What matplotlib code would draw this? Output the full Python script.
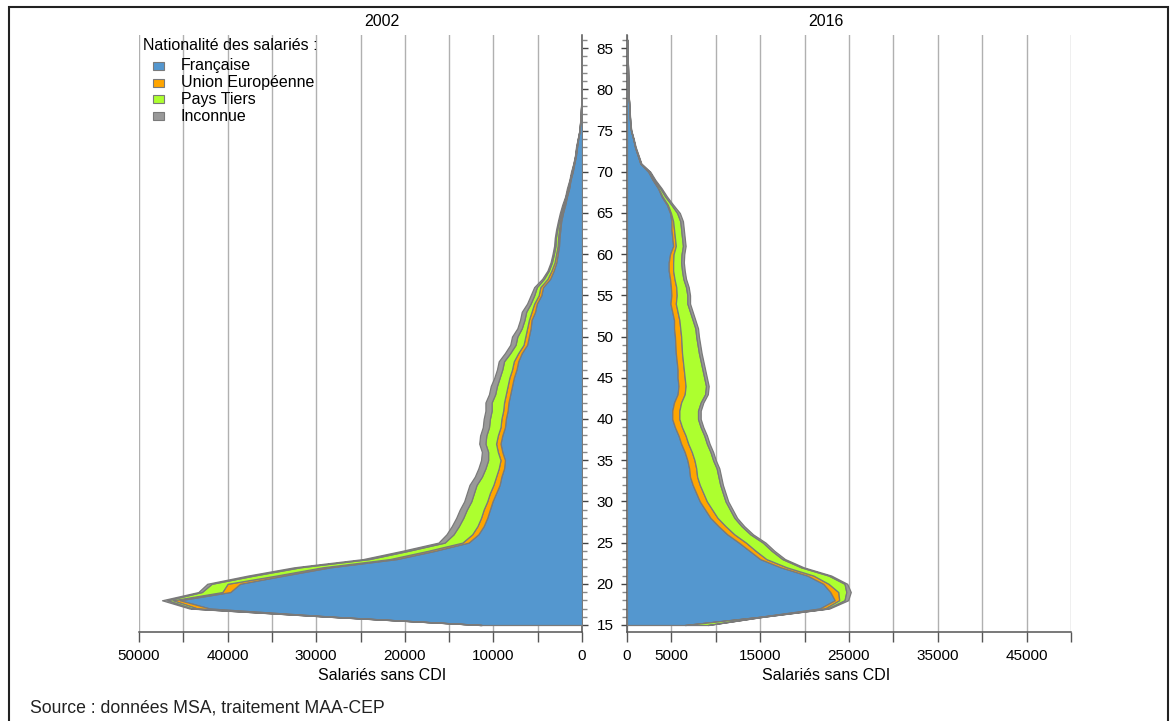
import numpy as np
import matplotlib
matplotlib.use("Agg")
import matplotlib.pyplot as plt
from matplotlib.patches import Rectangle
from matplotlib.ticker import FixedLocator, MultipleLocator

plt.rcParams['font.family'] = ['Liberation Sans', 'DejaVu Sans']

# ---------------------------------------------------------------------
# Data: salariés sans CDI by age and nationality
# ---------------------------------------------------------------------
ages = list(range(15, 87))

fr_2002 = [11300, 28000, 42000, 45400, 39700, 38600, 33600, 28400, 20900, 16600,
           12800, 11700, 11100, 10700, 10400, 10100, 9700, 9300, 9100, 8800,
           8700, 9000, 9200, 9000, 8700, 8600, 8400, 8300, 8100, 7900,
           7700, 7400, 7200, 6800, 6200, 6000, 5800, 5700, 5300, 5100,
           4600, 4400, 3600, 3200, 2900, 2750, 2600, 2550, 2450, 2350,
           2150, 1900, 1700, 1450, 1300, 1050, 870, 680, 560, 430,
           260, 190, 130, 90, 60, 45, 35, 25, 20, 12,
           8, 5]
ue_2002 = [50, 200, 1400, 800, 900, 1400, 900, 900, 800, 800,
           700, 700, 700, 700, 700, 600, 700, 700, 600, 600,
           500, 500, 500, 500, 500, 500, 500, 500, 500, 500,
           500, 500, 500, 400, 400, 400, 400, 300, 400, 300,
           300, 300, 300, 250, 200, 180, 150, 150, 150, 120,
           100, 80, 50, 50, 30, 50, 30, 30, 30, 20,
           10, 10, 5, 5, 0, 0, 0, 0, 0, 0,
           0, 0]
pt_2002 = [100, 300, 600, 600, 2300, 1800, 2500, 2500, 2300, 2200,
           2000, 2100, 2100, 2000, 1900, 1800, 1800, 1900, 1600, 1500,
           1400, 1100, 1200, 1300, 1300, 1300, 1300, 1400, 1200, 1200,
           1100, 1100, 1100, 900, 900, 900, 600, 500, 600, 400,
           500, 400, 400, 300, 300, 250, 250, 250, 200, 150,
           150, 150, 100, 100, 50, 70, 50, 50, 50, 20,
           20, 10, 10, 5, 0, 0, 0, 0, 0, 0,
           0, 0]
in_2002 = [50, 100, 300, 600, 400, 500, 700, 700, 700, 700,
           700, 800, 800, 800, 800, 800, 800, 800, 800, 800,
           800, 700, 700, 700, 700, 700, 700, 700, 700, 700,
           600, 600, 600, 600, 600, 600, 500, 500, 500, 400,
           400, 300, 200, 150, 150, 150, 150, 120, 120, 100,
           100, 100, 50, 100, 50, 70, 30, 30, 40, 20,
           10, 10, 5, 5, 5, 5, 5, 5, 5, 5,
           5, 5]

fr_2016 = [6500, 15000, 21700, 23400, 22900, 22100, 20300, 17300, 15000, 13800,
           12600, 11300, 10300, 9400, 8800, 8200, 7800, 7400, 7100, 7000,
           6800, 6500, 6100, 5800, 5400, 5100, 5100, 5300, 5700, 5800,
           5700, 5700, 5600, 5500, 5450, 5400, 5300, 5300, 5100, 4900,
           5000, 4950, 4850, 4700, 4700, 4850, 5200, 5100, 5000, 5000,
           4850, 4500, 3900, 3500, 2900, 2400, 1500, 1200, 900, 700,
           450, 350, 300, 250, 200, 180, 150, 120, 100, 80,
           80, 60]
ue_2016 = [100, 100, 600, 500, 900, 600, 700, 700, 700, 700,
           800, 800, 800, 800, 800, 800, 800, 800, 800, 800,
           800, 800, 800, 800, 800, 800, 800, 800, 800, 800,
           800, 700, 700, 700, 700, 700, 700, 600, 600, 600,
           600, 600, 500, 500, 500, 400, 300, 300, 300, 200,
           100, 100, 100, 50, 50, 30, 20, 20, 10, 5,
           5, 5, 5, 0, 0, 0, 0, 0, 0, 0,
           0, 0]
pt_2016 = [2500, 200, 300, 600, 900, 1800, 1700, 1600, 1800, 1800,
           1900, 1800, 1800, 1900, 2000, 2100, 2200, 2300, 2400, 2300,
           2100, 2100, 2100, 2100, 2100, 2100, 2100, 2200, 2300, 2300,
           2200, 2100, 2000, 1900, 1800, 1700, 1700, 1500, 1400, 1300,
           1200, 1100, 1000, 1000, 900, 900, 800, 800, 800, 800,
           700, 400, 300, 200, 150, 100, 50, 30, 20, 10,
           5, 5, 5, 5, 0, 0, 0, 0, 0, 0,
           0, 0]
in_2016 = [100, 100, 200, 400, 500, 300, 300, 300, 300, 300,
           300, 300, 300, 300, 300, 300, 300, 300, 300, 300,
           300, 300, 300, 300, 300, 300, 300, 300, 300, 300,
           300, 300, 300, 300, 300, 300, 300, 300, 300, 300,
           300, 300, 300, 300, 300, 300, 300, 300, 300, 300,
           300, 200, 200, 150, 100, 100, 50, 50, 50, 40,
           30, 20, 15, 10, 10, 5, 5, 5, 5, 5,
           5, 5]

nationalites = ["Française", "Union Européenne", "Pays Tiers", "Inconnue"]
colors = ["#5497cf", "#ffa500", "#adff2f", "#999999"]

x_ticks = list(range(0, 50001, 5000))
labels_2002 = ["50000", "40000", "30000", "20000", "10000", "0"]
labels_2016 = ["0", "5000", "15000", "25000", "35000", "45000"]

# ---------------------------------------------------------------------
# Layout helpers (pixel boxes -> figure fractions)
# ---------------------------------------------------------------------
W, H = 1172, 721
FS = 11.5


def fx(x):
    return x / W


def fy(y):
    return 1 - y / H


def px_box(x0, y0, x1, y1):
    return [x0 / W, 1 - y1 / H, (x1 - x0) / W, (y1 - y0) / H]


def draw_panel(ax, layers, labels):
    cum = np.zeros(len(ages))
    for vals, col in zip(layers, colors):
        top = cum + np.array(vals, dtype=float)
        ax.fill_betweenx(ages, cum, top, facecolor=col, edgecolor="#7a7a7a",
                         linewidth=0.9, zorder=3)
        cum = top

    ax.set_ylim(14.15, 86.6)
    ax.xaxis.set_major_locator(FixedLocator(x_ticks))
    ax.set_xticklabels([str(t) if str(t) in labels else "" for t in x_ticks])
    ax.grid(axis="x", color="#b0b0b0", linewidth=1.0)
    ax.set_axisbelow(True)
    ax.tick_params(axis="x", direction="out", length=7.5, width=1,
                   color="#555555", labelsize=11, pad=5)
    ax.yaxis.set_major_locator(MultipleLocator(5))
    ax.yaxis.set_minor_locator(MultipleLocator(1))
    for s in ax.spines.values():
        s.set_color("#555555")
        s.set_linewidth(1.1)
    ax.spines["top"].set_visible(False)


fig = plt.figure(figsize=(W / 100, H / 100), dpi=100)
fig.patch.set_facecolor("white")

# left: 2002 (inverted x)
ax_l = fig.add_axes(px_box(139, 35, 582, 632))
draw_panel(ax_l, [fr_2002, ue_2002, pt_2002, in_2002], labels_2002)
ax_l.set_xlim(50000, 0)
ax_l.spines["left"].set_visible(False)
ax_l.yaxis.tick_right()
ax_l.tick_params(axis="y", which="major", direction="out", length=4.5,
                 width=1, color="#444444", labelsize=11, pad=12)
ax_l.tick_params(axis="y", which="minor", direction="out", length=3.6,
                 width=1, color="#888888")
for lab in ax_l.get_yticklabels():
    lab.set_horizontalalignment("center")

# right: 2016
ax_r = fig.add_axes(px_box(627, 35, 1071, 632))
draw_panel(ax_r, [fr_2016, ue_2016, pt_2016, in_2016], labels_2016)
ax_r.set_xlim(0, 50000)
ax_r.spines["right"].set_visible(False)
ax_r.tick_params(axis="y", which="major", direction="out", length=4.5,
                 width=1, color="#444444", labelleft=False)
ax_r.tick_params(axis="y", which="minor", direction="out", length=3.6,
                 width=1, color="#888888")

# titles and axis labels
fig.text(fx(382), fy(22), "2002", ha="center", va="center", fontsize=FS)
fig.text(fx(826), fy(22), "2016", ha="center", va="center", fontsize=FS)
fig.text(fx(382), fy(675), "Salariés sans CDI", ha="center", va="center", fontsize=FS)
fig.text(fx(826), fy(675), "Salariés sans CDI", ha="center", va="center", fontsize=FS)

# legend
fig.text(fx(143), fy(45), "Nationalité des salariés :", ha="left", va="center", fontsize=FS)
for i, (name, col) in enumerate(zip(nationalites, colors)):
    yc = 65.7 + i * 16.8
    fig.add_artist(Rectangle((fx(153), fy(yc + 4)), 10.5 / W, 8 / H,
                             facecolor=col, edgecolor="#7a7a7a", linewidth=0.8,
                             transform=fig.transFigure))
    fig.text(fx(181), fy(yc), name, ha="left", va="center", fontsize=FS)

# source and frame
fig.text(fx(30), fy(708), "Source : données MSA, traitement MAA-CEP",
         ha="left", va="center", fontsize=12.7, color="#222222")
fig.add_artist(Rectangle((fx(9), -0.05), (1168 - 9) / W, fy(7) + 0.05,
                         fill=False, edgecolor="#222222", linewidth=1.5,
                         transform=fig.transFigure))

fig.savefig("out.png", dpi=100)
